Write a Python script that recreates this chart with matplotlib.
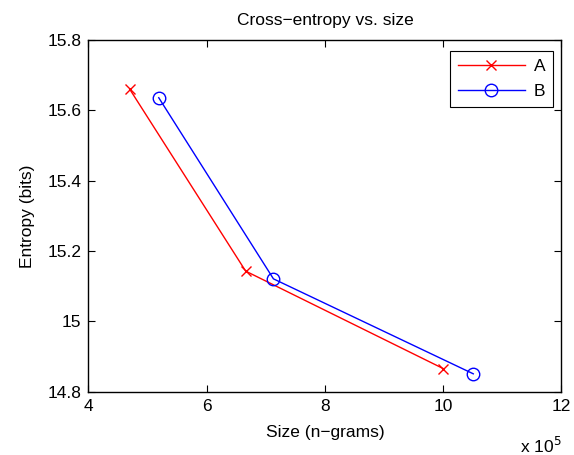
import matplotlib
matplotlib.use('Agg')
import matplotlib.pyplot as plt

plt.rcParams['font.family'] = ['Liberation Sans', 'DejaVu Sans']
plt.rcParams['font.size'] = 12.5

# sizes in units of 1e5 n-grams
size_a = [4.70, 6.66, 10.0]
entropy_a = [15.660, 15.143, 14.866]
size_b = [5.19, 7.13, 10.51]
entropy_b = [15.636, 15.121, 14.851]

fig = plt.figure(figsize=(5.74, 4.55), dpi=100)
ax = fig.add_axes([0.154, 0.139, 0.824, 0.773])

ax.plot(size_a, entropy_a, color='red', marker='x', markersize=7, linewidth=1, label='A')
ax.plot(size_b, entropy_b, color='blue', marker='o', markersize=9, markerfacecolor='none',
        linewidth=1, label='B')

ax.set_xlim(4, 12)
ax.set_ylim(14.8, 15.8)
ax.set_xticks([4, 6, 8, 10, 12])
ax.set_xticklabels(['4', '6', '8', '10', '12'])
ax.set_yticks([14.8, 15, 15.2, 15.4, 15.6, 15.8])
ax.set_yticklabels(['14.8', '15', '15.2', '15.4', '15.6', '15.8'])
ax.tick_params(direction='in', top=True, right=True, length=5, width=0.8, labelsize=12.5, pad=5)
for s in ax.spines.values():
    s.set_linewidth(1)

ax.set_title('Cross\u2212entropy vs. size', fontsize=12.5, pad=11)
ax.set_xlabel('Size (n\u2212grams)', fontsize=12.5, labelpad=8)
ax.set_ylabel('Entropy (bits)', fontsize=12.5, labelpad=9)
fig.text(0.9786, 0.005, r'x 10$^{5}$', ha='right', va='baseline', fontsize=12.5)

leg = ax.legend(loc='upper right', fancybox=False, edgecolor='black', framealpha=1,
                bbox_to_anchor=(0.983, 0.969), borderaxespad=0, handlelength=3.9,
                fontsize=12.5, labelspacing=0.6, borderpad=0.45, handletextpad=0.5)
leg.get_frame().set_linewidth(0.8)

fig.savefig('out.png', dpi=100)
